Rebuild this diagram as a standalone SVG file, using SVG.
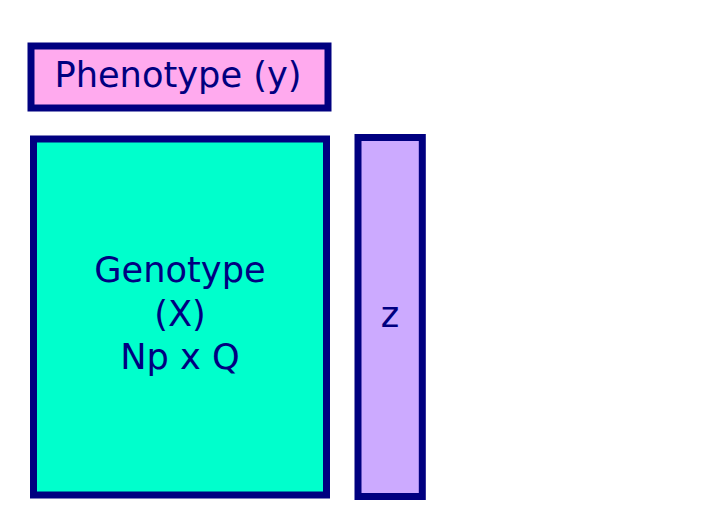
<svg xmlns="http://www.w3.org/2000/svg" width="709" height="532" viewBox="0 0 709 532">
<style>
.box{stroke:#000080;stroke-width:7}
.lbl{font-family:"DejaVu Sans",sans-serif;font-size:35.2px;fill:#000080;text-anchor:middle}
</style>
<rect width="709" height="532" fill="#ffffff"/>
<g id="phenotype">
<rect class="box" x="31" y="46" width="297" height="62" fill="#ffaaee"/>
<text class="lbl" x="178" y="87">Phenotype (y)</text>
</g>
<g id="genotype">
<rect class="box" x="33.5" y="139" width="293" height="356" fill="#00ffcc"/>
<text class="lbl" x="180" y="282">Genotype</text>
<text class="lbl" x="180" y="325.5">(X)</text>
<text class="lbl" x="180" y="369">Np x Q</text>
</g>
<g id="z">
<rect class="box" x="358" y="137.5" width="64.3" height="359" fill="#ccaaff"/>
<text class="lbl" x="390" y="326.5">z</text>
</g>
<g id="connectors"></g>
</svg>
